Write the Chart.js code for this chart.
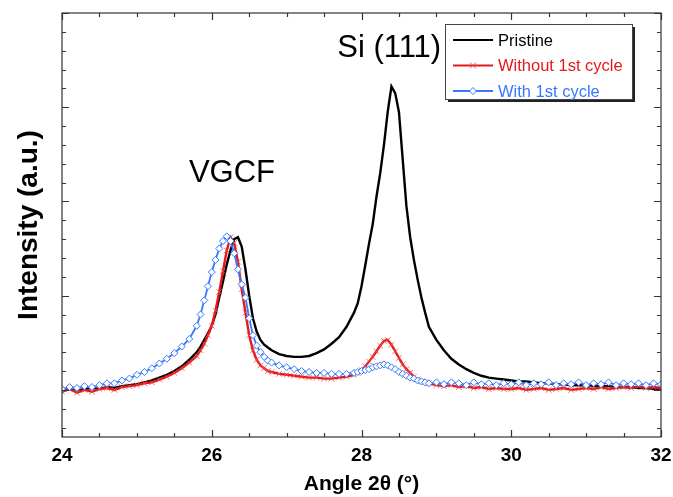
<!DOCTYPE html>
<html>
<head>
<meta charset="utf-8">
<script src="https://cdn.jsdelivr.net/npm/chart.js@4"></script>
<style>
  html, body { margin: 0; padding: 0; background: #fff; }
  #xrd { display: block; }
</style>
</head>
<body>
<canvas id="xrd" width="673" height="497"></canvas>
<script>
// 2theta angles (deg), finer near the peaks
const angles = [
  24.0, 24.1, 24.2, 24.3, 24.4, 24.5, 24.6, 24.7, 24.8, 24.9, 25.0, 25.1, 25.2, 25.3, 25.4, 25.5, 25.6, 25.7,
  25.8, 25.85, 25.9, 25.95, 26.0, 26.05, 26.1, 26.15, 26.2, 26.25, 26.3, 26.35, 26.4, 26.45, 26.5, 26.55, 26.6, 26.65, 26.7, 26.75, 26.8,
  26.9, 27.0, 27.1, 27.2, 27.3, 27.4, 27.5, 27.6, 27.7, 27.8,
  27.9, 27.95, 28.0, 28.05, 28.1, 28.15, 28.2, 28.25, 28.3, 28.35, 28.4, 28.45, 28.5, 28.55, 28.6, 28.65, 28.7, 28.75, 28.8, 28.85, 28.9,
  29.0, 29.1, 29.2, 29.3, 29.4, 29.5, 29.6, 29.7, 29.8, 29.9, 30.0, 30.1, 30.2, 30.3, 30.4, 30.5, 30.6, 30.7, 30.8, 30.9,
  31.0, 31.1, 31.2, 31.3, 31.4, 31.5, 31.6, 31.7, 31.8, 31.9, 32.0
];

const pristine = [
  0.00, 0.01, -0.01, 0.01, 0.02, 0.01, 0.03, 0.02, 0.04, 0.05, 0.06, 0.08, 0.10, 0.13, 0.16, 0.20, 0.25, 0.32,
  0.40, 0.46, 0.53, 0.60, 0.68, 0.80, 0.98, 1.15, 1.33, 1.48, 1.60, 1.62, 1.52, 1.28, 1.00, 0.76, 0.62, 0.53, 0.48, 0.45, 0.42,
  0.38, 0.36, 0.35, 0.35, 0.36, 0.39, 0.43, 0.49, 0.56, 0.67,
  0.82, 0.92, 1.10, 1.32, 1.55, 1.76, 2.05, 2.30, 2.60, 2.95, 3.22, 3.15, 2.95, 2.45, 1.95, 1.62, 1.38, 1.17, 0.98, 0.82, 0.67,
  0.53, 0.42, 0.33, 0.27, 0.22, 0.18, 0.15, 0.13, 0.12, 0.11, 0.10, 0.09, 0.09, 0.08, 0.07, 0.07, 0.06, 0.06, 0.05, 0.05,
  0.05, 0.04, 0.04, 0.04, 0.03, 0.03, 0.03, 0.02, 0.02, 0.01, 0.01
];

const without1st = [
  -0.02, 0.01, -0.03, 0.00, -0.02, 0.01, 0.02, 0.00, 0.03, 0.04, 0.05, 0.07, 0.08, 0.11, 0.14, 0.18, 0.23, 0.29,
  0.36, 0.42, 0.49, 0.58, 0.68, 0.84, 1.04, 1.26, 1.48, 1.62, 1.56, 1.36, 1.07, 0.82, 0.58, 0.42, 0.32, 0.26, 0.23, 0.20, 0.19,
  0.17, 0.16, 0.15, 0.14, 0.13, 0.13, 0.12, 0.12, 0.13, 0.14,
  0.16, 0.18, 0.21, 0.25, 0.30, 0.35, 0.41, 0.47, 0.52, 0.53, 0.48, 0.41, 0.34, 0.27, 0.22, 0.18, 0.14, 0.11, 0.09, 0.08, 0.07,
  0.05, 0.04, 0.05, 0.03, 0.04, 0.02, 0.03, 0.01, 0.02, 0.01, 0.01, 0.02, 0.00, 0.01, 0.02, 0.00, 0.01, 0.02, 0.00, 0.01,
  0.02, 0.01, 0.03, 0.01, 0.02, 0.03, 0.02, 0.04, 0.02, 0.03, 0.02
];

const with1st = [
  0.01, 0.03, 0.02, 0.04, 0.03, 0.05, 0.07, 0.07, 0.10, 0.12, 0.16, 0.19, 0.23, 0.28, 0.33, 0.39, 0.46, 0.54,
  0.68, 0.80, 0.95, 1.10, 1.25, 1.38, 1.50, 1.58, 1.63, 1.58, 1.45, 1.28, 1.12, 0.98, 0.76, 0.58, 0.47, 0.40, 0.35, 0.31, 0.29,
  0.26, 0.24, 0.22, 0.20, 0.19, 0.18, 0.18, 0.17, 0.17, 0.17,
  0.18, 0.19, 0.20, 0.21, 0.22, 0.24, 0.25, 0.26, 0.27, 0.26, 0.24, 0.22, 0.19, 0.17, 0.15, 0.13, 0.12, 0.10, 0.09, 0.08, 0.07,
  0.08, 0.06, 0.08, 0.07, 0.05, 0.08, 0.06, 0.07, 0.05, 0.07, 0.06, 0.08, 0.05, 0.07, 0.06, 0.08, 0.05, 0.07, 0.06, 0.08,
  0.05, 0.07, 0.06, 0.08, 0.05, 0.07, 0.06, 0.07, 0.05, 0.07, 0.06
];

const seriesNames = ['Pristine', 'Without 1st cycle', 'With 1st cycle'];
const xTicks = [24, 26, 28, 30, 32];
const peakNames = ['VGCF', 'Si (111)'];

const BLACK = '#000000';
const RED = '#e31a1c';
const BLUE = '#3479ff';
const FONT = '"Liberation Sans", Arial, sans-serif';

function pts(ys) {
  return angles.map((a, i) => ({ x: a, y: ys[i] }));
}

// frame with inward ticks on all four sides, peak labels and boxed legend
const framePlugin = {
  id: 'frame',
  afterDatasetsDraw(chart) {
    const { ctx, chartArea: a } = chart;
    const xs = chart.scales.x, ys = chart.scales.y;
    ctx.save();
    ctx.strokeStyle = '#333';
    ctx.lineWidth = 1.2;
    ctx.strokeRect(a.left, a.top, a.right - a.left, a.bottom - a.top);

    ctx.beginPath();
    for (let v = 24; v <= 32.001; v += 0.5) {
      const px = Math.round(xs.getPixelForValue(v)) + 0.5;
      const len = Math.abs(v % 2) < 0.01 ? 7 : 4;
      ctx.moveTo(px, a.bottom); ctx.lineTo(px, a.bottom - len);
      ctx.moveTo(px, a.top); ctx.lineTo(px, a.top + len);
    }
    for (let v = -0.4; v <= 4.001; v += 0.2) {
      const py = Math.round(ys.getPixelForValue(v)) + 0.5;
      const major = Math.abs(v - Math.round(v)) < 0.01;
      const len = major ? 7 : 4;
      ctx.moveTo(a.left, py); ctx.lineTo(a.left + len, py);
      ctx.moveTo(a.right, py); ctx.lineTo(a.right - len, py);
    }
    ctx.stroke();

    // peak labels
    ctx.fillStyle = '#000';
    ctx.font = '31px ' + FONT;
    ctx.textAlign = 'center';
    ctx.textBaseline = 'middle';
    ctx.fillText(peakNames[0], xs.getPixelForValue(26.27), ys.getPixelForValue(2.30));
    ctx.fillText(peakNames[1], xs.getPixelForValue(28.37), ys.getPixelForValue(3.62));

    // legend box
    const lx = 445, ly = 24, lw = 187, lh = 75;
    ctx.fillStyle = '#222';
    ctx.fillRect(lx + 3, ly + 3, lw, lh);
    ctx.fillStyle = '#fff';
    ctx.fillRect(lx, ly, lw, lh);
    ctx.strokeStyle = '#444';
    ctx.lineWidth = 1;
    ctx.strokeRect(lx + 0.5, ly + 0.5, lw, lh);

    const colors = [BLACK, RED, BLUE];
    ctx.font = '16.5px ' + FONT;
    ctx.textAlign = 'left';
    seriesNames.forEach((name, i) => {
      const y = ly + 16 + i * 25.5;
      ctx.strokeStyle = colors[i];
      ctx.lineWidth = 2;
      ctx.beginPath();
      ctx.moveTo(453, y); ctx.lineTo(493, y);
      ctx.stroke();
      if (i === 1) {
        ctx.lineWidth = 1;
        ctx.strokeStyle = '#f05050';
        ctx.beginPath();
        ctx.moveTo(470, y - 3); ctx.lineTo(476, y + 3);
        ctx.moveTo(476, y - 3); ctx.lineTo(470, y + 3);
        ctx.stroke();
      } else if (i === 2) {
        ctx.lineWidth = 1;
        ctx.fillStyle = '#fff';
        ctx.beginPath();
        ctx.moveTo(473, y - 3.5); ctx.lineTo(476.5, y); ctx.lineTo(473, y + 3.5); ctx.lineTo(469.5, y);
        ctx.closePath();
        ctx.fill(); ctx.stroke();
      }
      ctx.fillStyle = colors[i];
      ctx.fillText(name, 498, y + 1);
    });
    ctx.restore();
  }
};

new Chart(document.getElementById('xrd').getContext('2d'), {
  type: 'line',
  data: {
    datasets: [
      {
        label: seriesNames[0],
        data: pts(pristine),
        borderColor: BLACK,
        borderWidth: 2.4,
        pointRadius: 0,
        order: 3
      },
      {
        label: seriesNames[1],
        data: pts(without1st),
        borderColor: RED,
        borderWidth: 2.4,
        pointStyle: 'crossRot',
        pointRadius: 4,
        pointBorderColor: 'rgba(240, 70, 70, 0.8)',
        pointBorderWidth: 1,
        order: 2
      },
      {
        label: seriesNames[2],
        data: pts(with1st),
        borderColor: BLUE,
        borderWidth: 1.8,
        pointStyle: 'rectRot',
        pointRadius: 3.5,
        pointBackgroundColor: '#ffffff',
        pointBorderColor: BLUE,
        pointBorderWidth: 1,
        order: 1
      }
    ]
  },
  options: {
    responsive: false,
    animation: false,
    devicePixelRatio: 1,
    layout: { padding: { top: 13, right: 12, left: 0, bottom: 0 } },
    plugins: {
      legend: { display: false },
      tooltip: { enabled: false }
    },
    scales: {
      x: {
        type: 'linear',
        min: 24,
        max: 32,
        afterBuildTicks(scale) {
          scale.ticks = xTicks.map(v => ({ value: v }));
        },
        afterFit(scale) {
          scale.height = 60;
          scale.paddingLeft = 0;
          scale.paddingRight = 0;
        },
        grid: { display: false, drawTicks: false },
        border: { display: false },
        ticks: {
          color: '#000',
          padding: 7,
          maxRotation: 0,
          font: { family: FONT, size: 19, weight: 'bold' }
        },
        title: {
          display: true,
          text: 'Angle 2θ (°)',
          color: '#000',
          padding: { top: 4, bottom: 0 },
          font: { family: FONT, size: 21, weight: 'bold' }
        }
      },
      y: {
        min: -0.5,
        max: 4,
        afterFit(scale) { scale.width = 62; },
        grid: { display: false, drawTicks: false },
        border: { display: false },
        ticks: { display: false },
        title: {
          display: true,
          text: 'Intensity (a.u.)',
          color: '#000',
          padding: { top: 12, bottom: 0 },
          font: { family: FONT, size: 28, weight: 'bold' }
        }
      }
    }
  },
  plugins: [framePlugin]
});
</script>
</body>
</html>
